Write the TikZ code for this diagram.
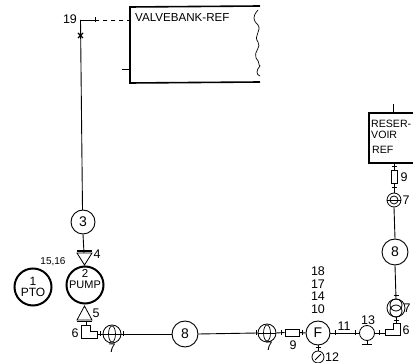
\documentclass[tikz,border=0pt]{standalone}
\usepackage{fontspec}
\setmainfont{Liberation Sans}
\usetikzlibrary{shapes.geometric}
\tikzset{
  lbl/.style={inner sep=0pt,font=\fontsize{12.5}{12.5}\selectfont},
  comp/.style={circle,draw,line width=.9pt,inner sep=0pt,minimum size=#1,font=\fontsize{14}{14}\selectfont},
  big/.style={circle,draw,line width=2pt,inner sep=0pt,minimum size=37pt,align=center,font=\fontsize{12}{11}\selectfont},
  pipe/.style={line width=.9pt},
  heavy box/.style={line width=1.6pt},
  coup/.style={circle,draw,line width=.8pt,inner sep=0pt,minimum size=#1},
  coupin/.style={ellipse,draw,line width=.7pt,inner sep=0pt,minimum width=#1,minimum height=16pt},
  tick/.style={line width=.8pt},
  restext/.style={inner sep=0pt,anchor=west,font=\fontsize{10.6}{10.6}\selectfont}
}
\newcommand{\htick}[2]{\draw[tick] (#1,#2-2.5) -- (#1,#2+2.5);}
\newcommand{\vtick}[2]{\draw[tick] (#1-2.5,#2) -- (#1+2.5,#2);}
\begin{document}
\begin{tikzpicture}[x=1pt,y=-1pt]
\useasboundingbox (0,0) rectangle (413,363);
% Valve bank
\draw[heavy box] (260,6) -- (130,7) -- (130,83) -- (260,82);
\draw[line width=.7pt] (258,10) .. controls (252,17) and (253,20) .. (258,25) .. controls (262,31) and (253,36) .. (258,42) .. controls (262,47) and (253,52) .. (256,58) .. controls (260,62) and (258,65) .. (260,66);
\draw[line width=.7pt] (260,66) .. controls (256,70) and (256,75) .. (260,76);
\node[lbl,anchor=west,font=\fontsize{11.6}{11.6}\selectfont] (vb) at (135,17.5) {VALVEBANK-REF};
\coordinate (vbin) at (130,20);
\coordinate (vbl) at (122,69);
\coordinate (vblr) at (130,69);
\draw[pipe] (vbl) -- (vblr);
\node[lbl] (n19) at (70,19.5) {19};
\coordinate (corner) at (80.5,20);
\coordinate (t19) at (95,20);
\draw[pipe] (corner) -- (t19);
\draw[pipe,dash pattern=on 4pt off 4pt] (t19) -- (vbin);
\htick{95}{20}
% Pressure line
\node[comp=24pt] (c3) at (83,222) {3};
\draw[pipe] (corner) -- (82.5,210);
\draw[line width=1.3pt] (78,33) -- (83,38) (83,33) -- (78,38);
% Pump
\node[big] (pump) at (85,285) {};
\node[lbl,font=\fontsize{11.5}{11.5}\selectfont] (n2) at (85,273) {2};
\node[lbl,font=\fontsize{11}{11}\selectfont] (npump) at (85,284.5) {PUMP};
\node[big] (pto) at (33,287) {1\\PTO};
\node[lbl,font=\fontsize{10}{10}\selectfont] (n1516) at (53,262) {15,16};
% Item 4
\draw[line width=.8pt] (77,253) -- (92,253) -- (84.5,265) -- cycle;
\draw[line width=1.2pt] (77,251) -- (92,251);
\draw[pipe] (c3.south) -- (84,253);
\node[lbl] (n4) at (97,254) {4};
% Item 5
\draw[line width=.8pt] (77,320) -- (92,320) -- (84.5,306) -- cycle;
\draw[line width=1.5pt] (77,321.5) -- (92,321.5);
\node[lbl] (n5) at (96,313) {5};
% Lower-left 6
\draw[line width=.9pt] (81,338) -- (81,325) -- (90,325) -- (90,331) -- (97,331) -- (97,338) -- cycle;
\draw[pipe] (86,322) -- (86,325);
\node[lbl] (n6a) at (75,333) {6};
% Lower-left 7
\node[coup=18pt] (c7a) at (112,334) {};
\node[coupin=7pt] (c7ai) at (112,334) {};
\draw[pipe] (97,334) -- (c7a.west);
\draw[tick] (c7a.west) -- (c7a.east);
\node[lbl] (n7a) at (112,348) {7};
\htick{100}{334}
% 8
\node[comp=26pt] (c8a) at (185,334) {8};
\draw[pipe] (c7a.east) -- (c8a.west);
\htick{123}{334}
% Lower middle 7
\node[coup=18pt] (c7b) at (267,333) {};
\node[coupin=7pt] (c7bi) at (267,333) {};
\draw[tick] (c7b.west) -- (c7b.east);
\draw[pipe] (c8a.east) -- (c7b.west);
\htick{256}{333}
\node[lbl] (n7b) at (269,346) {7};
% 9
\node[draw,line width=.9pt,inner sep=0pt,minimum width=14pt,minimum height=7pt] (r9) at (292,332.5) {};
\draw[pipe] (c7b.east) -- (r9.west);
\htick{281}{333}
\node[lbl] (n9a) at (293,345) {9};
% F
\node[comp=24pt] (f) at (318,333) {F};
\draw[pipe] (r9.east) -- (f.west);
\htick{302}{333}
\node[lbl,align=center] (nf) at (318,290) {18\\[0pt]17\\[0pt]14\\[0pt]10};
% Gauge
\node[coup=12pt] (g) at (318,357) {};
\draw[line width=.9pt] (315,360) -- (321,354);
\draw[pipe] (f.south) -- (g.north);
\vtick{318}{347}
\node[lbl] (n12) at (332,357) {12};
% 13
\node[coup=15pt] (c13) at (367,333) {};
\draw[pipe] (f.east) -- (c13.west);
\htick{335}{333}
\htick{355}{333}
\node[lbl] (n11) at (344,326) {11};
\node[lbl] (n13) at (368,320) {13};
\draw[pipe] (c13.south) -- (367,344);
\draw[line width=.9pt] (362,344) -- (372,344);
% Lower-right 6
\draw[line width=.9pt] (385,335) -- (400,335) -- (400,323) -- (393,323) -- (393,329) -- (385,329) -- cycle;
\draw[pipe] (c13.east) -- (385,333);
\htick{379}{333}
\node[lbl] (n6b) at (406,330) {6};
% Right 7
\node[coup=18pt] (c7c) at (396,308) {};
\node[coup=12pt] (c7ci) at (396,305) {};
\node[coup=12pt] (c7cj) at (396,311) {};
\draw[pipe] (396,323) -- (c7c.south);
\vtick{396}{320}
\vtick{396}{295}
\node[lbl] (n7c) at (407,308) {7};
% Right 8
\node[comp=26pt] (c8b) at (395,252) {8};
\draw[pipe] (c8b.south) -- (c7c.north);
% Upper 7
\node[coup=14pt] (c7d) at (394,200) {};
\node[coup=8pt] (c7di) at (394,200) {};
\draw[pipe] (c7d.south) -- (c8b.north);
\draw[tick] (c7d.west) -- (c7d.east);
\node[lbl] (n7d) at (406,200) {7};
% Upper 9
\node[draw,line width=.9pt,inner sep=0pt,minimum width=6pt,minimum height=13pt] (r9b) at (394,176.5) {};
\draw[pipe] (r9b.south) -- (c7d.north);
\vtick{394}{187}
\node[lbl] (n9b) at (404,177) {9};
% Reservoir
\draw[heavy box] (413,113) -- (369,113) -- (369,163) -- (413,163);
\node[restext] (rs1) at (371,124) {RESER-};
\node[restext] (rs2) at (371,135) {VOIR};
\node[restext] (rs3) at (372,150) {REF};
\coordinate (rtop) at (393,104);
\coordinate (rin) at (393,113);
\draw[pipe] (rtop) -- (rin);
\coordinate (rout) at (394,163);
\draw[pipe] (rout) -- (r9b.north);
\vtick{394}{166}
\end{tikzpicture}
\end{document}
